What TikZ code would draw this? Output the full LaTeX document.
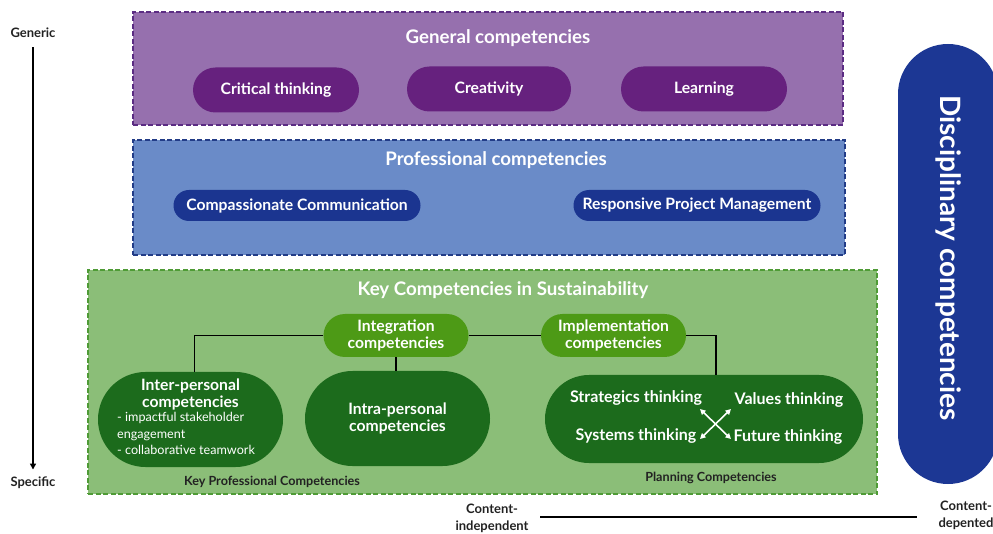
\documentclass[tikz,border=0pt]{standalone}
\usepackage{fontspec}
\setmainfont{Lato}
\usetikzlibrary{arrows.meta}

\definecolor{purpfill}{HTML}{9670AE}
\definecolor{purpline}{HTML}{5B2C83}
\definecolor{purppill}{HTML}{66217E}
\definecolor{bluefill}{HTML}{6A8BC8}
\definecolor{blueline}{HTML}{223C87}
\definecolor{bluepill}{HTML}{1B3590}
\definecolor{greenfill}{HTML}{8BBE78}
\definecolor{greenline}{HTML}{4F9B36}
\definecolor{greenlite}{HTML}{4D9A16}
\definecolor{greendark}{HTML}{1C6B1C}
\definecolor{discblue}{HTML}{1C3794}
\definecolor{inkdark}{HTML}{222222}

\tikzset{
  band/.style={draw, dash pattern=on 5pt off 2.5pt, line width=1.1pt, minimum width=#1},
  title/.style={text=white, font=\bfseries\fontsize{18.7}{21}\selectfont},
  pill/.style={rounded corners=#1, minimum height=2*#1, inner sep=0pt, text=white, align=center},
  pilltext/.style={font=\bfseries\fontsize{15.7}{17.5}\selectfont},
  note/.style={text=inkdark, font=\bfseries\fontsize{12.6}{14}\selectfont},
  axislbl/.style={text=inkdark, font=\bfseries\fontsize{13}{17}\selectfont, align=center},
  link/.style={line width=1.4pt, black},
  thinktext/.style={text=white, font=\bfseries\fontsize{16}{18}\selectfont},
}

\begin{document}
\begin{tikzpicture}[x=1pt, y=-1pt]
\useasboundingbox (0,0) rectangle (993,534);

% generic -> specific axis
\node[axislbl] (generic) at (33,33) {Generic};
\node[axislbl] (specific) at (33,483) {Specific};
\draw[line width=1.8pt, -{Triangle[length=6pt,width=6pt]}] ([yshift=-6pt]generic.south) -- ([yshift=4pt]specific.north);

% content axis
\node[axislbl] (cindep) at (492,518) {Content-\\independent};
\node[axislbl] (cdep) at (966,515) {Content-\\depented};
\draw[line width=1.8pt] ([xshift=8pt]cindep.east |- 0,517) coordinate (ca) -- ([xshift=-18pt]cdep.west |- 0,517) coordinate (cb);

% general competencies
\node[band=710pt, minimum height=113pt, fill=purpfill, draw=purpline] (general) at (488,68.5) {};
\node[title] (gentitle) at (498,38) {General competencies};
\node[pill=22.5pt, minimum width=166pt, fill=purppill, pilltext] (critical) at (276,90) {Critical thinking};
\node[pill=22.5pt, minimum width=164pt, fill=purppill, pilltext] (creativity) at (489,89) {Creativity};
\node[pill=22.5pt, minimum width=166pt, fill=purppill, pilltext] (learning) at (704,89) {Learning};

% professional competencies
\node[band=712pt, minimum height=115pt, fill=bluefill, draw=blueline] (prof) at (489,197.5) {};
\node[title] (proftitle) at (496,160) {Professional competencies};
\node[pill=15.5pt, minimum width=247pt, fill=bluepill, pilltext] (compassion) at (297,205.5) {Compassionate Communication};
\node[pill=15.5pt, minimum width=247pt, fill=bluepill, pilltext] (responsive) at (697,205.5) {Responsive Project Management};

% key competencies in sustainability
\node[band=789pt, minimum height=224pt, fill=greenfill, draw=greenline] (key) at (482.5,382) {};
\node[title] (keytitle) at (503,290) {Key Competencies in Sustainability};

\node[pill=21.5pt, minimum width=145pt, fill=greenlite, pilltext] (integ) at (396,335.5) {Integration\\competencies};
\node[pill=21.5pt, minimum width=145pt, fill=greenlite, pilltext] (impl) at (613.5,335.5) {Implementation\\competencies};

\node[pill=47.5pt, minimum width=185pt, fill=greendark] (inter) at (190.5,419.5) {};
\node[text=white, pilltext, align=center] (intertitle) at (190.5,394.5) {Inter-personal\\competencies};
\node[text=white, font=\fontsize{12.6}{16.5}\selectfont, align=left, anchor=north west, inner sep=0pt] (interlist) at (117,412.5)
  {- impactful stakeholder\\engagement\\- collaborative teamwork};

\node[pill=47.5pt, minimum width=185pt, fill=greendark, pilltext] (intra) at (397.5,418.5) {Intra-personal\\competencies};

\node[pill=44pt, minimum width=318pt, fill=greendark] (plan) at (704,419) {};
\node[thinktext] (strategic) at (636,398) {Strategics thinking};
\node[thinktext] (values) at (789,400) {Values thinking};
\node[thinktext] (systems) at (636,436) {Systems thinking};
\node[thinktext] (future) at (788,437) {Future thinking};
\coordinate (xa) at (700,409);
\coordinate (xb) at (731,439);
\coordinate (xc) at (700,439);
\coordinate (xd) at (731,409);
\draw[white, line width=1.6pt, {Triangle[length=5.5pt,width=5.5pt]}-{Triangle[length=5.5pt,width=5.5pt]}] (xa) -- (xb);
\draw[white, line width=1.6pt, {Triangle[length=5.5pt,width=5.5pt]}-{Triangle[length=5.5pt,width=5.5pt]}] (xc) -- (xd);

\node[note] (keyprof) at (272,482) {Key Professional Competencies};
\node[note] (planning) at (711,478) {Planning Competencies};

% links between competency groups
\draw[link] (integ.west) -| ([xshift=4pt]inter.north);
\draw[link] (integ.south) -- (intra.north -| integ.south);
\draw[link] (integ.east) -- (impl.west);
\draw[link] (impl.east) -| ([xshift=12pt]plan.north);

% disciplinary competencies
\node[pill=50pt, minimum width=440pt, fill=discblue, rotate=-90] (disc) at (948,264) {};
\node[rotate=-90, text=white, font=\bfseries\fontsize{28}{32}\selectfont] (disctext) at (949,258) {Disciplinary competencies};
\end{tikzpicture}
\end{document}
